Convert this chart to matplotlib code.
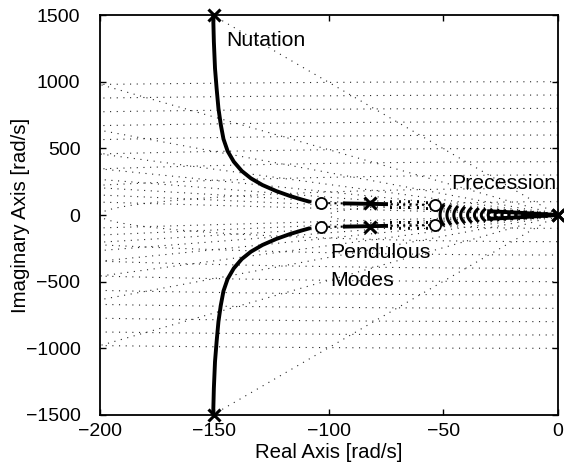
import numpy as np
import matplotlib
matplotlib.use("Agg")
import matplotlib.pyplot as plt

plt.rcParams['font.family'] = ['Liberation Sans', 'DejaVu Sans']

# ---- data ----
zeta_vals = [0.1, 0.2, 0.3, 0.4, 0.5, 0.6, 0.7, 0.8, 0.9]
wn_vals = [100, 200, 300, 400, 500, 600, 700, 800, 900, 1000]

# nutation branch (upper half; mirrored for lower)
nut_x = [-150.5, -150.2, -149.7, -149, -148.2, -147.2, -146, -144.2, -141.5, -138, -134, -129, -123, -117, -112, -108.5]
nut_y = [1500, 1300, 1100, 950, 800, 680, 570, 480, 400, 330, 275, 225, 180, 143, 117, 100]

# pendulous branch: thick and dotted parts at |Im| level
pend_thick_x = [-93, -75]
pend_dot_x = [-103, -53]
pend_y = [90, 75]   # level at left / right

# poles and zeros (upper half, mirrored)
poles_x = [-150, -82, 0]
poles_y = [1500, 88, 0]
zeros_x = [-103.5, -53.5]
zeros_y = [90, 75]

# precession arcs
arc_x = [-50, -47, -44, -41, -38, -35, -32, -29, -26, -23, -20, -17, -14, -11, -8, -5]
arc_h = [72, 65, 59, 54, 49, 44, 40, 36, 32, 29, 26, 24, 21, 18, 14, 10]
prec_x = [0, -10, -20, -30]
prec_y = [0, 10, 20, 28]

# short vertical steps on pendulous segment
step_x = [-73, -69, -65, -61, -57]
step_h = 35

xticks = [-200, -150, -100, -50, 0]
yticks = [-1500, -1000, -500, 0, 500, 1000, 1500]

fig = plt.figure(figsize=(5.64, 4.71), dpi=100)
ax = fig.add_axes([0.177, 0.119, 0.812, 0.849])
ax.set_xlim(-200, 0)
ax.set_ylim(-1500, 1500)

grid_kw = dict(color='0.15', lw=0.8, linestyle=(0, (1, 5)), zorder=1)
# damping lines
for z in zeta_vals:
    s = np.tan(np.arccos(z))
    xs = np.array([0, -2000])
    for sign in (1, -1):
        ax.plot(xs, sign * (-xs) * s, **grid_kw)
# natural frequency circles
th = np.linspace(np.pi / 2, 3 * np.pi / 2, 2000)
for w in wn_vals:
    ax.plot(w * np.cos(th), w * np.sin(th), **grid_kw)

# nutation branch
nx = np.array(nut_x); ny = np.array(nut_y)
for sign in (1, -1):
    ax.plot(nx, sign * ny, color='k', lw=2.8, solid_capstyle='round', zorder=3)
    ax.plot([nx[-1], zeros_x[0]], [sign * ny[-1], sign * zeros_y[0]], color='k', lw=1.5,
            linestyle=(0, (1, 2)), zorder=3)

# pendulous
for sign in (1, -1):
    ax.plot(pend_dot_x, [sign * pend_y[0], sign * pend_y[1]], color='k', lw=1.5,
            linestyle=(0, (1, 2)), zorder=3)
    yl = np.interp(pend_thick_x, pend_dot_x, pend_y)
    ax.plot(pend_thick_x, sign * yl, color='k', lw=2.8, zorder=3)
    for sx in step_x:
        yc = np.interp(sx, pend_dot_x, pend_y)
        ax.plot([sx, sx], [sign * (yc - step_h), sign * (yc + step_h)], color='k', lw=1.4,
                linestyle=(0, (1.5, 1.5)), zorder=3)

# precession
yy = np.linspace(-1, 1, 50)
for x0, h in zip(arc_x, arc_h):
    ax.plot(x0 - 1.4 * (1 - yy ** 2), h * yy, color='k', lw=2.2, zorder=3)
for sign in (1, -1):
    ax.plot(prec_x, sign * np.array(prec_y), color='k', lw=2.8, zorder=3)

# markers
for sign in (1, -1):
    ax.plot(poles_x, sign * np.array(poles_y), 'x', color='k', ms=9, mew=2.2, zorder=5, clip_on=False)
    ax.plot(zeros_x, sign * np.array(zeros_y), 'o', mfc='white', mec='k', ms=8, mew=1.3, zorder=5)

fs_txt = 15.3
ax.text(-145, 1310, 'Nutation', fontsize=fs_txt, va='center', ha='left')
ax.text(-46.5, 240, 'Precession', fontsize=fs_txt, va='center', ha='left')
ax.text(-99.5, -280, 'Pendulous', fontsize=fs_txt, va='center', ha='left')
ax.text(-99.5, -490, 'Modes', fontsize=fs_txt, va='center', ha='left')

ax.set_xticks(xticks)
ax.set_yticks(yticks)
ax.set_xticklabels(['\u2212200', '\u2212150', '\u2212100', '\u221250', '0'])
ax.set_yticklabels(['\u22121500', '\u22121000', '\u2212500', '0', '500', '1000', '1500'])
ax.tick_params(direction='in', top=True, right=True, labelsize=14, length=4, width=1)
ax.tick_params(axis='y', pad=14)
ax.tick_params(axis='x', pad=6)
for sp in ax.spines.values():
    sp.set_linewidth(1.3)
ax.set_xlabel('Real Axis [rad/s]', fontsize=14.7, labelpad=2)
ax.set_ylabel('Imaginary Axis [rad/s]', fontsize=14.7, labelpad=-3)

fig.savefig('out.png', dpi=100)
